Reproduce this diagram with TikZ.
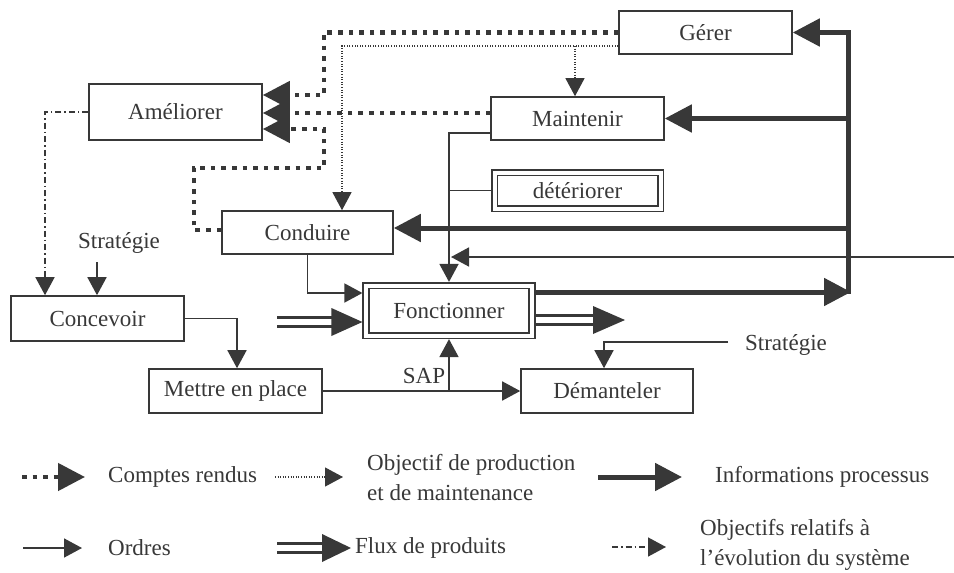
\documentclass[tikz,border=0pt]{standalone}
\usepackage{fontspec}
\setmainfont{Liberation Serif}
\usetikzlibrary{arrows.meta}
\definecolor{ink}{HTML}{383838}
\newcommand\myfs{\fontsize{23}{30}\selectfont}
\begin{document}
\begin{tikzpicture}[x=1pt,y=-1pt,
  box/.style={draw=ink, line width=1.6pt, minimum width=173pt, minimum height=43pt, inner sep=0pt, font=\myfs, text=ink},
  dbox/.style={box, double=white, double distance=4pt, minimum width=166pt, outer sep=3.6pt},
  lbl/.style={font=\myfs, text=ink, inner sep=0pt},
  bigtip/.style={-{Triangle[length=27pt,width=27pt]}},
  smalltip/.style={-{Triangle[length=18pt,width=19pt]}},
  info/.style={draw=ink, line width=5pt, line join=miter, bigtip},
  cr/.style={draw=ink, line width=4.6pt, dash pattern=on 4.6pt off 6pt, bigtip},
  obj/.style={draw=ink, line width=1.1pt, dash pattern=on 1pt off 1.6pt, smalltip},
  ord/.style={draw=ink, line width=1.6pt, smalltip},
  plain/.style={draw=ink, line width=1.6pt},
  evo/.style={draw=ink, line width=1.5pt, dash pattern=on 6pt off 3pt on 1.5pt off 3pt, smalltip},
  flux/.style={draw=ink, line width=3.5pt, double=white, double distance=5.5pt},
  fluxtip/.style={fill=ink, draw=none}
]
\useasboundingbox[fill=white] (0,0) rectangle (954,573);

% nodes
\node[box] (gerer) at (705.5,32.5) {Gérer};
\node[box, minimum height=56pt] (amel) at (175.5,112) {Améliorer};
\node[box] (maint) at (577.5,118.5) {Maintenir};
\node[dbox, minimum height=36pt] (deter) at (577.5,190.5) {détériorer};
\node[box, minimum width=171pt] (cond) at (307.5,232.5) {Conduire};
\node[dbox, minimum height=50pt] (fonc) at (449,310.5) {Fonctionner};
\node[box, minimum height=45pt] (conc) at (97.5,318.5) {Concevoir};
\node[box, minimum height=44pt] (mettre) at (235.5,391) {Mettre en place};
\node[box, minimum width=172pt, minimum height=44pt] (dem) at (607,391) {Démanteler};
\node[lbl] (strat1) at (119,243) {Stratégie};
\node[lbl] (strat2) at (786,345) {Stratégie};
\node[lbl] (sap) at (424,376) {SAP};

% comptes rendus
\draw[cr] (gerer.west) -| (324,95) -- (amel.east |- 0,95);
\draw[cr] (maint.west |- 0,113) -- (amel.east |- 0,113);
\draw[cr] (cond.west |- 0,230) -- (194,230) -- (194,168) -- (324,168) -- (324,129) -- (amel.east |- 0,129);

% objectifs de production et de maintenance
\draw[obj] (gerer.west |- 0,46) -- (342,46) -- (cond.north -| 342,0);
\draw[obj] (575,46) -- (maint.north -| 575,0);

% informations processus
\draw[info] (fonc.east |- 0,292) -- (851,292);
\draw[info] (848,294) -- (848,32.5) -- (gerer.east);
\draw[info] (848,118.5) -- (maint.east);
\draw[info] (848,228) -- (cond.east |- 0,228);

% ordres
\coordinate (ext) at (954,257);
\draw[ord] (ext) -- (451,257);
\draw[ord] (maint.west |- 0,133) -- (449,133) -- (fonc.north);
\draw[plain] (449,190.5) -- (deter.west);
\draw[ord] (cond.south) |- (fonc.west |- 0,293);
\draw[ord] (97,262) -- (conc.north -| 97,0);
\draw[ord] (conc.east) -| (mettre.north -| 237,0);
\draw[ord] (mettre.east) -- (dem.west);
\draw[ord] (449,391) -- (fonc.south);
\draw[ord] (728,342) -| (dem.north -| 604,0);

% evolution
\draw[evo] (amel.west) -| (conc.north -| 45,0);

% flux de produits
\draw[flux] (277,322) -- (334,322);
\fill[fluxtip] (fonc.west |- 0,322) -- ++(-31,-14) -- ++(0,28) -- cycle;
\coordinate (fout) at (625,320);
\draw[flux] (fonc.east |- 0,320) -- (595,320);
\fill[fluxtip] (fout) -- ++(-32,-14) -- ++(0,28) -- cycle;

% legend
\draw[cr] (22,477) -- (85,477);
\node[lbl, anchor=west] (l1) at (108,477) {Comptes rendus};
\draw[obj] (275,477) -- (343,477);
\node[lbl, anchor=west, align=left] (l2) at (367,478) {Objectif de production\\et de maintenance};
\draw[info] (598,477) -- (682,477);
\node[lbl, anchor=west] (l3) at (715,477) {Informations processus};
\draw[ord] (23,548) -- (82,548);
\node[lbl, anchor=west] (l4) at (108,548) {Ordres};
\draw[flux] (277,548) -- (323,548);
\fill[fluxtip] (351,548) -- ++(-29,-14) -- ++(0,28) -- cycle;
\node[lbl, anchor=west] (l5) at (355,548) {Flux de produits};
\draw[evo] (612,547) -- (666,547);
\node[lbl, anchor=west, align=left] (l6) at (700,545) {Objectifs relatifs à\\l'évolution du système};
\end{tikzpicture}
\end{document}
